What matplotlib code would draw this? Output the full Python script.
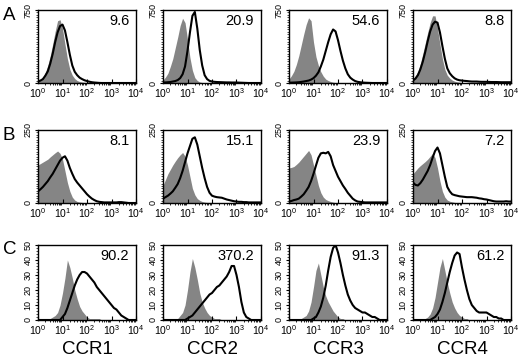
import matplotlib
matplotlib.use("Agg")
import matplotlib.pyplot as plt
from matplotlib.ticker import LogLocator, MultipleLocator, NullFormatter
import numpy as np

plt.rcParams['font.family'] = ['Liberation Sans', 'DejaVu Sans']

# log10 fluorescence channels (decades 0..4)
decades = [0.0, 0.1, 0.2, 0.3, 0.4, 0.5, 0.6, 0.7, 0.8, 0.9, 1.0,
           1.1, 1.2, 1.3, 1.4, 1.5, 1.6, 1.7, 1.8, 1.9, 2.0,
           2.1, 2.2, 2.3, 2.4, 2.5, 2.6, 2.7, 2.8, 2.9, 3.0,
           3.1, 3.2, 3.3, 3.4, 3.5, 3.6, 3.7, 3.8, 3.9, 4.0]

receptors = ['CCR1', 'CCR2', 'CCR3', 'CCR4']
row_letters = ['A', 'B', 'C']
row_ymax = [750, 250, 50]

# row A (control = gray, stained = black line)
a_ctrl_ccr1 = [20, 35, 60, 110, 180, 280, 400, 530, 640, 650, 560, 400, 250, 140, 80, 45, 25, 15, 10, 7, 5,
               3, 2, 0, 0, 0, 0, 0, 0, 0, 0, 0, 0, 0, 0, 0, 0, 0, 0, 0, 0]
a_stain_ccr1 = [15, 25, 40, 75, 120, 200, 300, 420, 520, 585, 600, 540, 420, 290, 180, 115, 80, 55, 40, 28, 20,
                13, 8, 5, 3, 1, 0, 0, 0, 0, 0, 0, 0, 0, 0, 0, 0, 0, 0, 0, 0]
a_ctrl_ccr2 = [30, 60, 100, 170, 250, 360, 470, 590, 665, 620, 450, 260, 130, 55, 25, 10, 5, 2, 0, 0, 0,
               0, 0, 0, 0, 0, 0, 0, 0, 0, 0, 0, 0, 0, 0, 0, 0, 0, 0, 0, 0]
a_stain_ccr2 = [5, 6, 8, 10, 15, 20, 30, 50, 90, 170, 330, 520, 690, 730, 560, 340, 180, 80, 40, 22, 15,
                12, 10, 9, 8, 7, 6, 6, 5, 5, 5, 4, 3, 2, 1, 0, 0, 0, 0, 0, 0]
a_ctrl_ccr3 = [40, 75, 120, 190, 280, 390, 500, 600, 670, 640, 420, 270, 180, 115, 70, 40, 25, 15, 8, 4, 2,
               0, 0, 0, 0, 0, 0, 0, 0, 0, 0, 0, 0, 0, 0, 0, 0, 0, 0, 0, 0]
a_stain_ccr3 = [3, 4, 5, 6, 8, 11, 15, 20, 25, 35, 50, 75, 110, 170, 240, 330, 420, 500, 550, 530, 440,
                330, 230, 150, 90, 55, 35, 20, 12, 8, 5, 3, 2, 1, 0, 0, 0, 0, 0, 0, 0]
a_ctrl_ccr4 = [40, 75, 120, 200, 300, 410, 520, 620, 690, 690, 560, 400, 250, 140, 80, 50, 30, 18, 12, 8, 6,
               4, 3, 2, 1, 0, 0, 0, 0, 0, 0, 0, 0, 0, 0, 0, 0, 0, 0, 0, 0]
a_stain_ccr4 = [25, 45, 80, 140, 220, 320, 430, 530, 600, 630, 620, 520, 380, 250, 150, 100, 70, 48, 35, 28, 25,
                22, 20, 17, 15, 15, 15, 13, 12, 12, 12, 11, 10, 10, 10, 9, 8, 8, 8, 8, 8]

# row B
b_ctrl_ccr1 = [130, 135, 140, 145, 150, 158, 165, 172, 178, 170, 150, 110, 70, 40, 20, 10, 5, 3, 2, 1, 0,
               0, 0, 0, 0, 0, 0, 0, 0, 0, 0, 0, 0, 0, 0, 0, 0, 0, 0, 0, 0]
b_stain_ccr1 = [40, 47, 55, 65, 75, 88, 100, 115, 130, 145, 155, 160, 145, 120, 100, 82, 70, 60, 50, 40, 30,
                22, 15, 10, 6, 4, 3, 2, 2, 2, 2, 2, 2, 3, 3, 2, 1, 0, 0, 0, 0]
b_ctrl_ccr2 = [60, 80, 100, 115, 130, 143, 155, 165, 173, 160, 130, 90, 50, 28, 15, 9, 5, 3, 2, 2, 2,
               1, 1, 0, 0, 0, 0, 0, 0, 0, 0, 0, 0, 0, 0, 0, 0, 0, 0, 0, 0]
b_stain_ccr2 = [15, 20, 25, 32, 40, 52, 65, 85, 110, 140, 170, 195, 220, 225, 200, 160, 120, 85, 55, 35, 25,
                22, 20, 19, 18, 15, 12, 10, 8, 6, 5, 4, 4, 3, 3, 2, 2, 2, 2, 2, 2]
b_ctrl_ccr3 = [120, 122, 125, 132, 140, 150, 160, 170, 180, 165, 130, 95, 60, 35, 20, 12, 8, 5, 3, 1, 0,
               0, 0, 0, 0, 0, 0, 0, 0, 0, 0, 0, 0, 0, 0, 0, 0, 0, 0, 0, 0]
b_stain_ccr3 = [5, 7, 10, 12, 15, 22, 30, 42, 55, 75, 100, 128, 155, 170, 172, 170, 175, 160, 130, 110, 90,
                75, 60, 48, 35, 25, 15, 9, 5, 4, 3, 2, 2, 2, 2, 2, 2, 2, 2, 2, 2]
b_ctrl_ccr4 = [100, 110, 120, 128, 135, 142, 150, 160, 170, 155, 120, 75, 40, 20, 10, 6, 4, 2, 1, 0, 0,
               0, 0, 0, 0, 0, 0, 0, 0, 0, 0, 0, 0, 0, 0, 0, 0, 0, 0, 0, 0]
b_stain_ccr4 = [70, 62, 60, 68, 80, 95, 110, 130, 155, 178, 190, 170, 130, 90, 55, 40, 30, 27, 25, 23, 22,
                21, 20, 20, 20, 19, 18, 16, 15, 13, 12, 10, 8, 6, 5, 5, 5, 5, 6, 5, 5]

# row C
c_ctrl_ccr1 = [0, 0, 0, 0, 1, 1, 2, 3, 5, 10, 18, 28, 40, 35, 28, 20, 14, 9, 6, 4, 2,
               1, 1, 1, 1, 1, 0, 0, 0, 0, 0, 0, 0, 0, 0, 0, 0, 0, 0, 0, 0]
c_stain_ccr1 = [0, 0, 0, 0, 0, 0, 0, 0, 0, 0, 2, 4, 8, 13, 18, 23, 27, 30, 32, 32, 31,
                29, 27, 25, 22, 20, 18, 16, 14, 12, 10, 8, 7, 5, 3, 2, 1, 0, 0, 0, 0]
c_ctrl_ccr2 = [0, 0, 0, 0, 0, 1, 1, 3, 5, 10, 20, 32, 41, 35, 27, 18, 12, 8, 5, 3, 2,
               1, 1, 1, 0, 0, 0, 0, 0, 0, 0, 0, 0, 0, 0, 0, 0, 0, 0, 0, 0]
c_stain_ccr2 = [0, 0, 0, 0, 0, 0, 0, 0, 0, 0, 1, 2, 3, 5, 7, 9, 11, 13, 15, 17, 18,
                20, 22, 23, 25, 27, 29, 32, 36, 36, 30, 22, 12, 5, 2, 1, 0, 0, 0, 0, 0]
c_ctrl_ccr3 = [0, 0, 0, 0, 1, 1, 2, 3, 6, 12, 22, 33, 38, 30, 22, 16, 12, 9, 6, 4, 2,
               1, 1, 0, 0, 0, 0, 0, 0, 0, 0, 0, 0, 0, 0, 0, 0, 0, 0, 0, 0]
c_stain_ccr3 = [0, 0, 0, 0, 0, 0, 0, 0, 0, 0, 1, 2, 5, 9, 15, 23, 33, 42, 48, 50, 45,
                38, 30, 23, 17, 13, 10, 8, 7, 6, 5, 5, 4, 3, 2, 2, 1, 0, 0, 0, 0]
c_ctrl_ccr4 = [0, 0, 0, 0, 1, 1, 2, 4, 8, 15, 25, 35, 41, 33, 25, 18, 12, 8, 5, 3, 2,
               1, 1, 0, 0, 0, 0, 0, 0, 0, 0, 0, 0, 0, 0, 0, 0, 0, 0, 0, 0]
c_stain_ccr4 = [0, 0, 0, 0, 0, 0, 0, 0, 1, 2, 4, 7, 12, 18, 25, 32, 38, 43, 45, 44, 35,
                27, 20, 14, 10, 8, 6, 5, 5, 5, 5, 4, 3, 2, 2, 1, 1, 0, 0, 0, 0]

ctrl = [[a_ctrl_ccr1, a_ctrl_ccr2, a_ctrl_ccr3, a_ctrl_ccr4],
        [b_ctrl_ccr1, b_ctrl_ccr2, b_ctrl_ccr3, b_ctrl_ccr4],
        [c_ctrl_ccr1, c_ctrl_ccr2, c_ctrl_ccr3, c_ctrl_ccr4]]
stain = [[a_stain_ccr1, a_stain_ccr2, a_stain_ccr3, a_stain_ccr4],
         [b_stain_ccr1, b_stain_ccr2, b_stain_ccr3, b_stain_ccr4],
         [c_stain_ccr1, c_stain_ccr2, c_stain_ccr3, c_stain_ccr4]]

labels = [['9.6', '20.9', '54.6', '8.8'],
          ['8.1', '15.1', '23.9', '7.2'],
          ['90.2', '370.2', '91.3', '61.2']]

W, H = 519, 361
col_left = [38, 163, 289, 413]
col_width = 98
row_top = [10, 130, 245]
row_bottom = [83, 203, 320]

fig = plt.figure(figsize=(W / 100, H / 100), dpi=100)
fluor = 10 ** np.array(decades)

for r in range(3):
    ymax = row_ymax[r]
    for c in range(4):
        ax = fig.add_axes([col_left[c] / W, 1 - row_bottom[r] / H,
                           col_width / W, (row_bottom[r] - row_top[r]) / H])
        ax.fill_between(fluor, ctrl[r][c], 0, color='#858585', lw=0)
        ax.plot(fluor, stain[r][c], color='black', lw=1.5)
        ax.set_xscale('log')
        ax.set_xlim(1, 1e4)
        ax.set_ylim(0, ymax)
        ax.xaxis.set_major_locator(LogLocator(base=10, numticks=10))
        ax.xaxis.set_minor_locator(LogLocator(base=10, subs=np.arange(2, 10), numticks=10))
        ax.xaxis.set_minor_formatter(NullFormatter())
        if r < 2:
            ax.set_yticks([0, ymax])
            ax.yaxis.set_minor_locator(MultipleLocator(ymax / 30))
        else:
            ax.set_yticks([0, 10, 20, 30, 40, 50])
            ax.yaxis.set_minor_locator(MultipleLocator(2))
        ax.tick_params(axis='x', direction='in', labelsize=7.5, length=3, width=0.8, pad=2)
        ax.tick_params(axis='x', which='minor', length=1.5, width=0.6)
        ax.tick_params(axis='y', labelsize=6.5, length=2.5, width=0.8, pad=1.5,
                       labelrotation=90)
        ax.tick_params(axis='y', which='minor', length=1.5, width=0.5)
        for lbl in ax.get_yticklabels():
            lbl.set_verticalalignment('center')
        for sp in ax.spines.values():
            sp.set_linewidth(1.0)
        ax.text(0.93, 0.85, labels[r][c], transform=ax.transAxes,
                ha='right', va='center', fontsize=10.5)

    fig.text(3 / W, 1 - (row_top[r] + 5) / H, row_letters[r],
             ha='left', va='center', fontsize=13.5)

for c in range(4):
    fig.text((col_left[c] + col_width / 2) / W, 1 - 350 / H, receptors[c],
             ha='center', va='center', fontsize=13.5)

fig.savefig('out.png', dpi=100)
